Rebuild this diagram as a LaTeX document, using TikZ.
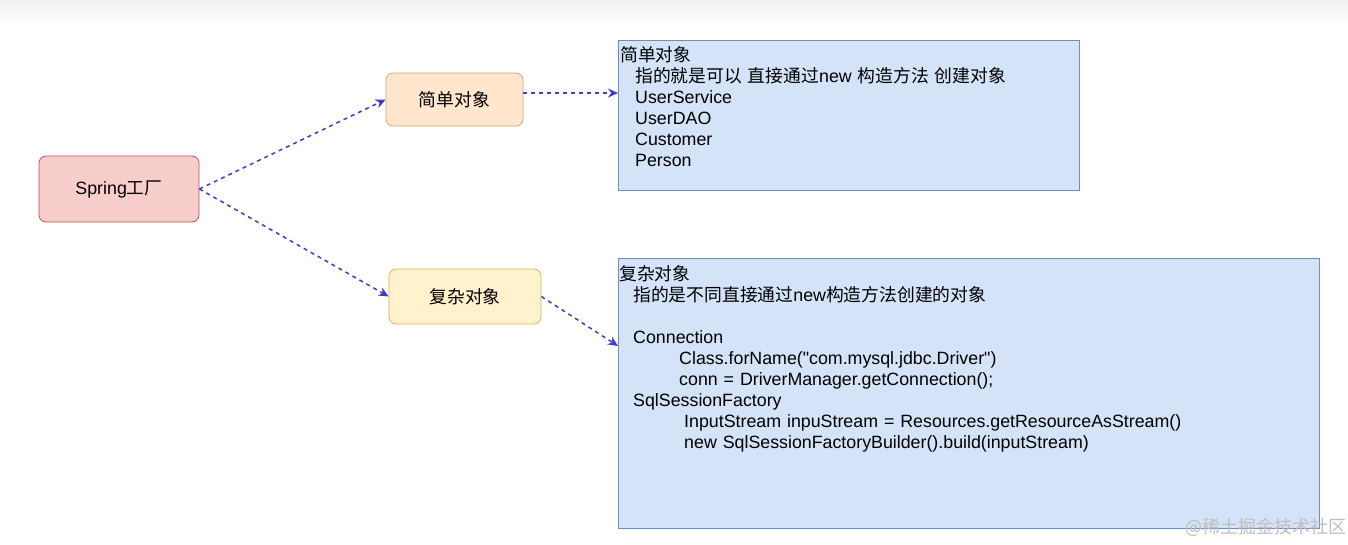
\documentclass[tikz,border=0pt]{standalone}
\usepackage{fontspec}
\setmainfont{Liberation Sans}
\newfontfamily\cjk{Noto Sans CJK SC}
\usetikzlibrary{arrows.meta}
\parindent=0pt
\newcommand\straightdq{\XeTeXglyph\XeTeXcharglyph"22\relax}
\definecolor{springfill}{HTML}{F8CECC}
\definecolor{springdraw}{HTML}{B85450}
\definecolor{simplefill}{HTML}{FFE6CC}
\definecolor{simpledraw}{HTML}{D7A86E}
\definecolor{complexfill}{HTML}{FFF2CC}
\definecolor{complexdraw}{HTML}{D6B656}
\definecolor{notefill}{HTML}{D4E3F8}
\definecolor{notedraw}{HTML}{6C8EBF}
\definecolor{arrowcol}{RGB}{60,60,200}
\begin{document}
\begin{tikzpicture}[x=1pt,y=1pt,
  base/.style={font=\fontsize{17.8}{21}\selectfont},
  objbox/.style={base,draw,rounded corners=7pt,line width=0.8pt,inner sep=0pt},
  notebox/.style={draw=notedraw,fill=notefill,line width=0.8pt,inner sep=0pt,anchor=north west},
  notetext/.style={base,inner sep=0pt,anchor=base west,align=left},
  link/.style={draw=arrowcol,line width=1.5pt,dash pattern=on 4pt off 4pt,-{Stealth[length=10pt,width=9pt]}}
]
\useasboundingbox (0,0) rectangle (1348,-544);
\fill[white] (0,0) rectangle (1348,-544);
\shade[top color=black!5,bottom color=white] (0,0) rectangle (1348,-28);

\node[objbox,fill=springfill,draw=springdraw,minimum width=160pt,minimum height=66pt] (spring) at (119,-189) {Spring{\cjk 工厂}};
\node[objbox,fill=simplefill,draw=simpledraw,minimum width=137pt,minimum height=53pt] (simple) at (454.5,-99.5) {\cjk 简单对象};
\node[objbox,fill=complexfill,draw=complexdraw,minimum width=152pt,minimum height=55pt] (complex) at (465,-296.5) {\cjk 复杂对象};

\node[notebox,minimum width=461pt,minimum height=150pt] (note1) at (618,-40) {};
\node[notebox,minimum width=701pt,minimum height=270pt] (note2) at (618,-258) {};

\node[notetext,text width=450pt] (text1) at (620,-61) {%
{\cjk 简单对象}\\
\hspace*{15pt}{\cjk 指的就是可以 直接通过}new {\cjk 构造方法 创建对象}\\
\hspace*{15pt}UserService\\
\hspace*{15pt}UserDAO\\
\hspace*{15pt}Customer\\
\hspace*{15pt}Person};

\node[notetext,text width=690pt] (text2) at (619,-280) {%
{\cjk 复杂对象}\\
\hspace*{14pt}{\cjk 指的是不同直接通过}new{\cjk 构造方法创建的对象}\\[21pt]
\hspace*{14pt}Connection\\
\hspace*{60pt}Class.forName(\straightdq com.mysql.jdbc.Driver\straightdq)\\
\hspace*{60pt}conn = DriverManager.getConnection();\\
\hspace*{14pt}SqlSessionFactory\\
\hspace*{65pt}InputStream inpuStream = Resources.getResourceAsStream()\\
\hspace*{65pt}new SqlSessionFactoryBuilder().build(inputStream)};

\draw[link] (spring.east) -- (simple.west);
\draw[link] (spring.east) -- (complex.west);
\coordinate (s1) at ([yshift=6.5pt]simple.east);
\draw[link] (s1) -- (s1 -| note1.west);
\draw[link] (complex.east) -- ([yshift=-88pt]note2.north west);

\node[font=\cjk\fontsize{18}{20}\selectfont,text=black!25,anchor=base east,inner sep=0pt] (wm) at (1347,-533) {@稀土掘金技术社区};
\end{tikzpicture}
\end{document}
